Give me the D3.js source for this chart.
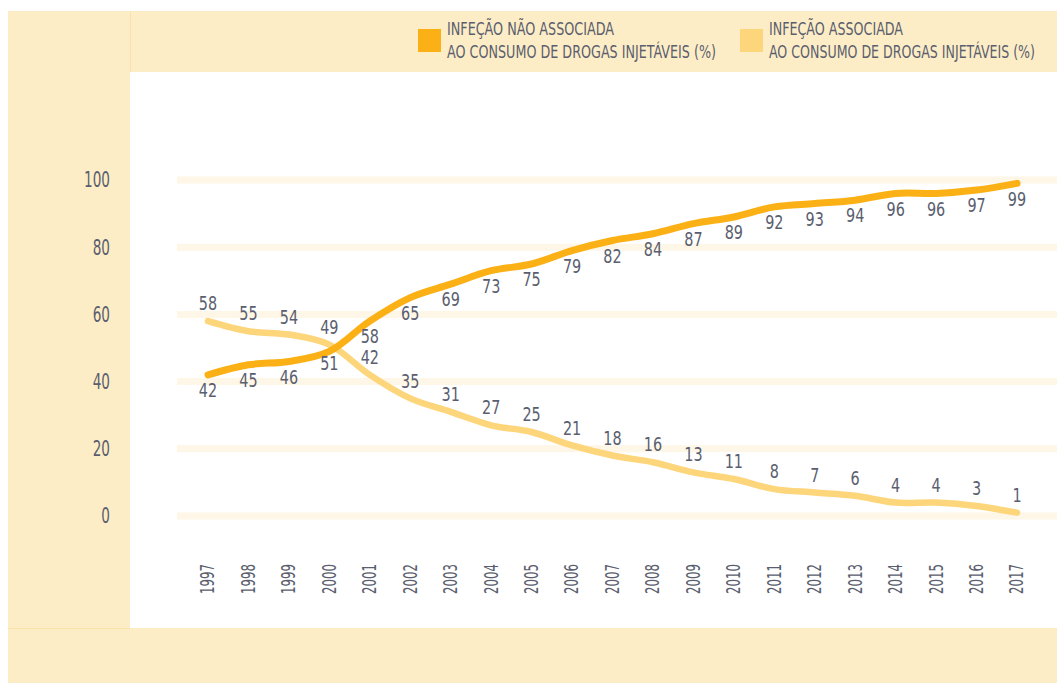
<!DOCTYPE html><html>
<head>
    <meta charset="utf-8">
    <style>
        body { margin: 0; background: #fff; }
        text { font-family: "DejaVu Sans Condensed", "DejaVu Sans", sans-serif; fill: #5a5e6e; }
    </style>
</head>
<body>
    <script src="https://cdn.jsdelivr.net/npm/d3@7"></script>
    <script>
        var years = [1997, 1998, 1999, 2000, 2001, 2002, 2003, 2004, 2005, 2006, 2007,
                     2008, 2009, 2010, 2011, 2012, 2013, 2014, 2015, 2016, 2017];
        var naoAssociada = [42, 45, 46, 49, 58, 65, 69, 73, 75, 79, 82, 84, 87, 89, 92, 93, 94, 96, 96, 97, 99];
        var associada = [58, 55, 54, 51, 42, 35, 31, 27, 25, 21, 18, 16, 13, 11, 8, 7, 6, 4, 4, 3, 1];
        var yTicks = [0, 20, 40, 60, 80, 100];
        var legendLabels = [
            ["INFEÇÃO NÃO ASSOCIADA", "AO CONSUMO DE DROGAS INJETÁVEIS (%)"],
            ["INFEÇÃO ASSOCIADA", "AO CONSUMO DE DROGAS INJETÁVEIS (%)"]
        ];
        var crossYear = 2000; // labels swap sides here

        var width = 1057, height = 683;
        var beige = '#fdedc6', dark = '#fbb116', light = '#fdd57a';
        var narrow = 0.8; // squeeze text, the original face is condensed

        var svg = d3.select('body').append('svg')
            .attr('width', width)
            .attr('height', height);

        // panels
        svg.append('rect').attr('x', 8).attr('y', 11).attr('width', width - 8).attr('height', 61).attr('fill', beige);
        svg.append('rect').attr('x', 8).attr('y', 11).attr('width', 122).attr('height', 617).attr('fill', beige);
        svg.append('rect').attr('x', 8).attr('y', 628).attr('width', width - 8).attr('height', height - 628).attr('fill', beige);
        svg.append('line').attr('x1', 130.5).attr('x2', 130.5).attr('y1', 11).attr('y2', 72)
            .attr('stroke', '#fbe2a6').attr('stroke-width', 1);
        svg.append('line').attr('x1', 8).attr('x2', 130).attr('y1', 628.5).attr('y2', 628.5)
            .attr('stroke', '#fbe2a6').attr('stroke-width', 1);

        var x = d3.scaleLinear().domain([1997, 2017]).range([208, 1017]);
        var y = d3.scaleLinear().domain([0, 100]).range([516, 180]);

        // grid
        svg.selectAll('.grid').data(yTicks).enter().append('line')
            .attr('class', 'grid')
            .attr('x1', 177).attr('x2', width)
            .attr('y1', function(d) { return y(d); })
            .attr('y2', function(d) { return y(d); })
            .attr('stroke', '#fef6e6')
            .attr('stroke-width', 7);

        // y labels
        svg.selectAll('.ytick').data(yTicks).enter().append('text')
            .attr('class', 'ytick')
            .attr('transform', function(d) { return 'translate(110,' + y(d) + ') scale(0.72,1)'; })
            .attr('text-anchor', 'end')
            .attr('dominant-baseline', 'central')
            .style('font-size', '21px')
            .text(function(d) { return d; });

        // x labels
        svg.selectAll('.year').data(years).enter().append('text')
            .attr('class', 'year')
            .attr('transform', function(d) { return 'translate(' + x(d) + ',594) rotate(-90) scale(0.69,1)'; })
            .attr('dominant-baseline', 'central')
            .style('font-size', '19px')
            .text(function(d) { return d; });

        var line = d3.line()
            .x(function(d, i) { return x(years[i]); })
            .y(function(d) { return y(d); })
            .curve(d3.curveCatmullRom.alpha(0.5));

        svg.append('path').datum(associada)
            .attr('d', line).attr('fill', 'none')
            .attr('stroke', light).attr('stroke-width', 6.5)
            .attr('stroke-linecap', 'round');
        svg.append('path').datum(naoAssociada)
            .attr('d', line).attr('fill', 'none')
            .attr('stroke', dark).attr('stroke-width', 7)
            .attr('stroke-linecap', 'round');

        // value labels
        function valueLabels(cls, data, offAbove, offBelow, belowNormally) {
            svg.selectAll('.' + cls).data(data).enter().append('text')
                .attr('class', cls)
                .attr('transform', function(d, i) {
                    var below = (years[i] === crossYear) ? !belowNormally : belowNormally;
                    var yy = y(d) + (below ? offBelow : offAbove);
                    return 'translate(' + x(years[i]) + ',' + yy + ') scale(' + narrow + ',1)';
                })
                .attr('text-anchor', 'middle')
                .attr('dominant-baseline', 'central')
                .style('font-size', '20px')
                .text(function(d) { return d; });
        }
        valueLabels('lblDark', naoAssociada, -25, 15, true);
        valueLabels('lblLight', associada, -18, 18, false);

        // legend
        var legendWidths = [[167, 269], [134, 266]];
        var legend = svg.selectAll('.legend').data(legendLabels).enter().append('g')
            .attr('class', 'legend')
            .attr('transform', function(d, i) { return 'translate(' + (i === 0 ? 418 : 740) + ',0)'; });
        legend.append('rect')
            .attr('x', 0).attr('y', 29).attr('width', 23).attr('height', 23)
            .attr('fill', function(d, i) { return i === 0 ? dark : light; });
        legend.each(function(d, li) {
            d3.select(this).selectAll('text').data(d).enter().append('text')
                .attr('x', 29)
                .attr('y', function(t, i) { return 35 + i * 23; })
                .attr('textLength', function(t, i) { return legendWidths[li][i]; })
                .attr('lengthAdjust', 'spacingAndGlyphs')
                .style('font-size', '18px')
                .text(function(t) { return t; });
        });
    </script>
</body></html>
